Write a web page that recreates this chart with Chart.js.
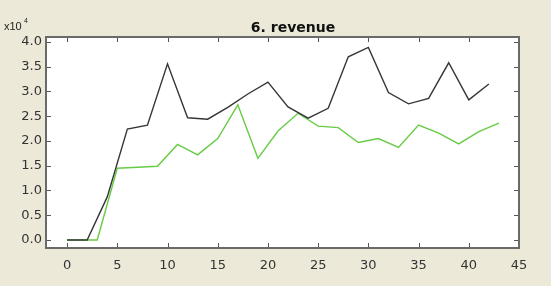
<!DOCTYPE html>
<html>
<head>
<meta charset="utf-8">
<script src="https://cdn.jsdelivr.net/npm/chart.js@4/dist/chart.umd.min.js"></script>
<style>
  html, body { margin: 0; padding: 0; background: #ECE9D8; }
  #wrap { width: 551px; height: 286px; }
</style>
</head>
<body>
<div id="wrap"><canvas id="revChart"></canvas></div>
<script>
// data (revenue, units of 1)
const blackX = [0, 2, 4, 6, 8, 10, 12, 14, 16, 18, 20, 22, 24, 26, 28, 30, 32, 34, 36, 38, 40, 42];
const blackY = [0, 0, 8700, 22400, 23200, 35600, 24700, 24400, 26800, 29500, 31900, 26900,
                24600, 26600, 37000, 38900, 29800, 27500, 28600, 35800, 28300, 31500];
const greenX = [0, 3, 5, 7, 9, 11, 13, 15, 17, 19, 21, 23, 25, 27, 29, 31, 33, 35, 37, 39, 41, 43];
const greenY = [0, 0, 14500, 14700, 14900, 19300, 17200, 20500, 27300, 16500, 22000, 25600,
                23000, 22700, 19700, 20500, 18700, 23200, 21600, 19400, 21900, 23600];
const xTicks = [0, 5, 10, 15, 20, 25, 30, 35, 40, 45];
const yTicks = [0, 5000, 10000, 15000, 20000, 25000, 30000, 35000, 40000];
const titleText = '6. revenue';

const FONT = '"DejaVu Sans", Verdana, sans-serif';

function toPoints(xs, ys) {
    return xs.map((x, i) => ({ x: x, y: ys[i] }));
}

// frame + inward ticks on all four sides, title and the x10^4 exponent label
const frameTicks = {
    id: 'frameTicks',
    afterDraw(chart) {
        const ctx = chart.ctx;
        const a = chart.chartArea;
        const xs = chart.scales.x, ys = chart.scales.y;
        ctx.save();
        ctx.strokeStyle = '#555';
        ctx.lineWidth = 1;
        ctx.beginPath();
        xs.ticks.forEach(t => {
            const px = Math.round(xs.getPixelForValue(t.value)) + 0.5;
            ctx.moveTo(px, a.bottom); ctx.lineTo(px, a.bottom - 5);
            ctx.moveTo(px, a.top); ctx.lineTo(px, a.top + 5);
        });
        ys.ticks.forEach(t => {
            const py = Math.round(ys.getPixelForValue(t.value)) + 0.5;
            ctx.moveTo(a.left, py); ctx.lineTo(a.left + 5, py);
            ctx.moveTo(a.right, py); ctx.lineTo(a.right - 5, py);
        });
        ctx.stroke();
        ctx.strokeStyle = '#6a6a6a';
        ctx.lineWidth = 2;
        ctx.strokeRect(a.left, a.top, a.right - a.left, a.bottom - a.top);

        ctx.fillStyle = '#111';
        ctx.textBaseline = 'alphabetic';
        ctx.textAlign = 'center';
        ctx.font = 'bold 14px ' + FONT;
        ctx.fillText(titleText, 293, 31.5);

        ctx.fillStyle = '#222';
        ctx.textAlign = 'left';
        ctx.font = '11px "Liberation Sans", Arial, sans-serif';
        ctx.fillText('x10', 4, 30);
        ctx.font = '7px "Liberation Sans", Arial, sans-serif';
        ctx.fillText('4', 24, 23);
        ctx.restore();
    }
};

const whiteArea = {
    id: 'whiteArea',
    beforeDraw(chart) {
        const a = chart.chartArea;
        chart.ctx.save();
        chart.ctx.fillStyle = '#ffffff';
        chart.ctx.fillRect(a.left, a.top, a.right - a.left, a.bottom - a.top);
        chart.ctx.restore();
    }
};

const revChart = new Chart(document.getElementById('revChart'), {
    type: 'line',
    data: {
        datasets: [
            {
                label: 'revenue A',
                data: toPoints(blackX, blackY),
                borderColor: '#363636',
                borderWidth: 1.4,
                pointRadius: 0,
                tension: 0
            },
            {
                label: 'revenue B',
                data: toPoints(greenX, greenY),
                borderColor: '#66cc44',
                borderWidth: 1.4,
                pointRadius: 0,
                tension: 0
            }
        ]
    },
    options: {
        responsive: true,
        maintainAspectRatio: false,
        animation: false,
        layout: { padding: { left: 0, right: 32, top: 37, bottom: 0 } },
        plugins: {
            legend: { display: false },
            tooltip: { enabled: false },
            title: { display: false }
        },
        scales: {
            x: {
                type: 'linear',
                min: -2.1,
                max: 45,
                afterBuildTicks: scale => { scale.ticks = xTicks.map(v => ({ value: v })); },
                afterFit: scale => { scale.height = 38; },
                grid: { display: false, drawTicks: false },
                border: { display: false },
                ticks: {
                    color: '#333',
                    padding: 10,
                    maxRotation: 0,
                    font: { family: FONT, size: 13 },
                    callback: v => v
                }
            },
            y: {
                type: 'linear',
                min: -1620,
                max: 41010,
                afterBuildTicks: scale => { scale.ticks = yTicks.map(v => ({ value: v })); },
                afterFit: scale => { scale.width = 46; },
                grid: { display: false, drawTicks: false },
                border: { display: false },
                ticks: {
                    color: '#333',
                    padding: 4,
                    font: { family: FONT, size: 13 },
                    callback: v => (v / 10000).toFixed(1)
                }
            }
        }
    },
    plugins: [whiteArea, frameTicks]
});
</script>
</body>
</html>
